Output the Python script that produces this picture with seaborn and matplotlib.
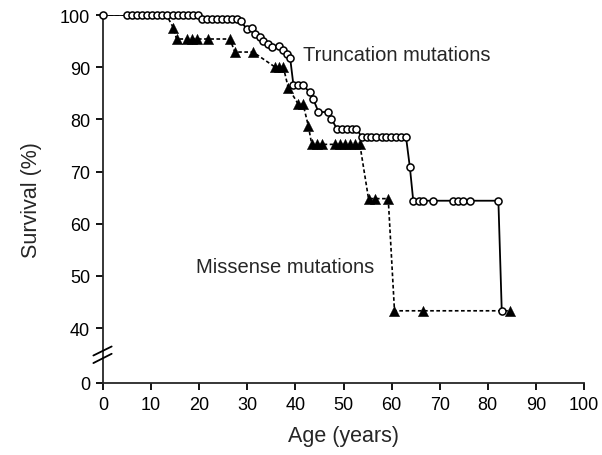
import numpy as np
import pandas as pd
import matplotlib
matplotlib.use("Agg")
import matplotlib.pyplot as plt
import seaborn as sns

# ---------------- data ----------------
trunc_age = [0,
             5.0, 6.05, 7.1, 8.15, 9.2, 10.25, 11.3, 12.35, 13.4, 14.45, 15.5, 16.55, 17.6, 18.65, 19.7,
             20.6, 21.65, 22.7, 23.75, 24.8, 25.85, 26.9, 27.9,
             28.6, 29.9, 30.9, 31.6, 32.6, 33.3, 34.4, 35.1, 36.5, 37.5, 38.2, 38.9,
             39.6, 40.6, 41.6, 43.0, 43.7, 44.8, 46.8, 47.5,
             48.6, 49.6, 50.7, 51.7, 52.7,
             53.8, 54.8, 55.8, 56.8, 57.9, 58.9, 59.9, 60.9, 61.9, 63.0,
             63.8, 64.5, 65.6, 66.6, 68.7, 72.8, 73.9, 74.9, 76.3, 82.2, 82.9]
trunc_surv = [100,
              100, 100, 100, 100, 100, 100, 100, 100, 100, 100, 100, 100, 100, 100, 100,
              99.2, 99.2, 99.2, 99.2, 99.2, 99.2, 99.2, 99.2,
              98.9, 97.3, 97.6, 96.4, 95.7, 95.1, 94.4, 93.9, 94.1, 93.2, 92.5, 91.8,
              86.5, 86.5, 86.5, 85.2, 83.9, 81.4, 81.4, 80.1,
              78.2, 78.2, 78.2, 78.2, 78.2,
              76.6, 76.6, 76.6, 76.6, 76.6, 76.6, 76.6, 76.6, 76.6, 76.6,
              70.8, 64.4, 64.4, 64.4, 64.4, 64.4, 64.4, 64.4, 64.4, 64.4, 43.3]

miss_age = [0, 13.2, 14.6, 15.3, 17.4, 18.4, 19.5, 21.9, 26.4, 27.4, 31.2,
            35.8, 36.5, 37.5, 38.5, 40.6, 41.6, 42.7,
            43.4, 44.4, 45.5, 48.2, 49.3, 50.3, 51.4, 52.4, 53.4,
            55.2, 56.5, 59.3, 60.6, 66.5, 84.6]
miss_surv = [100, 100, 97.6, 95.4, 95.4, 95.4, 95.4, 95.4, 95.4, 92.9, 92.9,
             90.0, 90.0, 90.0, 86.1, 82.9, 82.9, 78.7,
             75.2, 75.2, 75.2, 75.2, 75.2, 75.2, 75.2, 75.2, 75.2,
             64.8, 64.8, 64.8, 43.3, 43.3, 43.3]

x_ticks = [0, 10, 20, 30, 40, 50, 60, 70, 80, 90, 100]
y_tick_labels = ["0", "40", "50", "60", "70", "80", "90", "100"]

# ---------------- plot ----------------
sns.set_style("ticks")
plt.rcParams["font.family"] = ["Liberation Sans", "DejaVu Sans"]

Y0 = 29.46  # plotting position of the "0" tick below the axis break

fig = plt.figure(figsize=(6.02, 4.56), dpi=100)
ax = fig.add_axes([0.1711, 0.1579, 0.7990, 0.8070])

df_t = pd.DataFrame({"age": trunc_age, "surv": trunc_surv})
df_m = pd.DataFrame({"age": miss_age, "surv": miss_surv})

sns.lineplot(data=df_m, x="age", y="surv", sort=False, estimator=None, ax=ax,
             color="black", lw=1.2, linestyle=(0, (2.2, 1.5)), zorder=2)
sns.scatterplot(data=df_m.iloc[2:], x="age", y="surv", ax=ax, marker="^",
                s=55, color="black", edgecolor="black", linewidth=0.3, zorder=3, clip_on=False)

sns.lineplot(data=df_t, x="age", y="surv", sort=False, estimator=None, ax=ax,
             color="black", lw=1.3, zorder=4)
sns.scatterplot(data=df_t, x="age", y="surv", ax=ax, marker="o",
                s=26, facecolor="white", edgecolor="black", linewidth=1.1, zorder=5, clip_on=False)

ax.set_xlim(0, 100)
ax.set_ylim(Y0, 100)
ax.set_xticks(x_ticks)
ax.set_xticklabels([str(v) for v in x_ticks])
ax.set_yticks([Y0, 40, 50, 60, 70, 80, 90, 100])
ax.set_yticklabels(y_tick_labels)

for s in ["top", "right"]:
    ax.spines[s].set_visible(False)
for s in ["left", "bottom"]:
    ax.spines[s].set_linewidth(1.3)
ax.tick_params(axis="both", direction="out", length=5.2, width=1.3, labelsize=13,
               pad=4, colors="black")

ax.set_xlabel("Age (years)", fontsize=15.5, labelpad=9)
ax.set_ylabel("Survival (%)", fontsize=15.5, labelpad=13)

# axis break marks
for (ya, yb) in [(34.73, 36.46), (33.28, 35.06)]:
    ax.plot([-2.0, 1.8], [ya, yb], color="black", lw=1.3, clip_on=False, zorder=6)

ax.text(41.6, 92.5, "Truncation mutations", fontsize=14.5, ha="left", va="center")
ax.text(56.3, 51.7, "Missense mutations", fontsize=14.5, ha="right", va="center")

fig.savefig("out.png", dpi=100)
